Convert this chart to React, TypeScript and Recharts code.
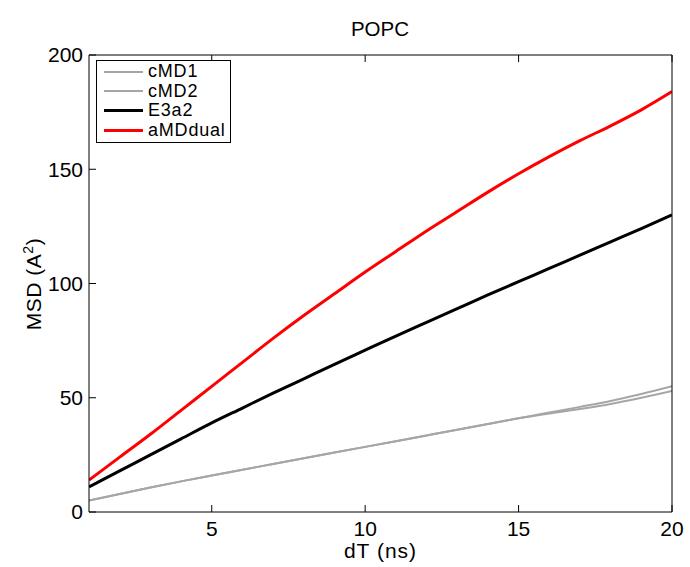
import React from 'react';
import { LineChart, Line, XAxis, YAxis, Legend, Label } from 'recharts';

const dT = [1, 2, 3, 4, 5, 6, 7, 8, 9, 10, 11, 12, 13, 14, 15, 16, 17, 18, 19, 20];
const cMD1 = [5, 7.9, 10.7, 13.4, 16, 18.5, 21, 23.5, 26, 28.5, 31, 33.5, 36, 38.5, 41, 43.5, 46, 48.6, 51.6, 55];
const cMD2 = [5, 7.9, 10.7, 13.4, 16, 18.5, 21, 23.5, 26, 28.5, 31, 33.5, 36, 38.5, 41, 43.1, 45.1, 47.3, 50, 53];
const E3a2 = [11, 18, 25, 32, 39, 45.5, 52, 58.3, 64.6, 70.8, 77, 83, 89, 95, 100.8, 106.6, 112.4, 118.2, 124, 130];
const aMDdual = [14, 24, 34, 44.5, 55, 65.5, 76, 86, 95.5, 105, 114, 123, 131.5, 140, 148, 155.5, 162.5, 169, 176, 184];
const xTicks = [5, 10, 15, 20];
const yTicks = [0, 50, 100, 150, 200];

const seriesInfo = [
  { key: 'cMD1', color: '#a6a6a6', width: 2 },
  { key: 'cMD2', color: '#a6a6a6', width: 2 },
  { key: 'E3a2', color: '#000000', width: 3 },
  { key: 'aMDdual', color: '#ff0000', width: 3 },
];

const data = dT.map((t, i) => ({ dT: t, cMD1: cMD1[i], cMD2: cMD2[i], E3a2: E3a2[i], aMDdual: aMDdual[i] }));

const FONT = '"Liberation Sans", Arial, sans-serif';

const LegendBox = () => (
  <div style={{ border: '1px solid #000', background: '#fff', width: 133, height: 80, boxSizing: 'content-box', fontFamily: FONT, fontSize: 18, letterSpacing: 0.8, paddingTop: 1 }}>
    {seriesInfo.map((s) => (
      <div key={s.key} style={{ display: 'flex', alignItems: 'center', height: 19.5 }}>
        <div style={{ marginLeft: 7, width: 39, height: s.width, background: s.color, flexShrink: 0 }} />
        <span style={{ marginLeft: 5, color: '#000', lineHeight: '19px', whiteSpace: 'nowrap' }}>{s.key}</span>
      </div>
    ))}
  </div>
);

const NoTick = () => <g />;

export default function App() {
  return (
    <div style={{ position: 'absolute', left: 0, top: 0, width: 690, height: 567, background: '#fff' }}>
      <LineChart width={690} height={567} data={data} margin={{ top: 54, right: 17, bottom: 0, left: 0 }}>
        <text x={380} y={36} textAnchor="middle" fontFamily={FONT} fontSize={20.5} fill="#000">POPC</text>
        <XAxis
          dataKey="dT"
          type="number"
          domain={[1, 20]}
          ticks={xTicks}
          allowDataOverflow
          height={55}
          tickSize={-7}
          tickMargin={16}
          stroke="#000"
          tick={{ fill: '#000', fontSize: 21, fontFamily: FONT }}
        >
          <Label
            content={(props: any) => {
              const vb = props.viewBox;
              return (
                <text x={vb.x + vb.width / 2} y={558} textAnchor="middle" fontFamily={FONT} fontSize={21} letterSpacing={1} fill="#000">dT (ns)</text>
              );
            }}
          />
        </XAxis>
        <XAxis
          xAxisId="top"
          orientation="top"
          dataKey="dT"
          type="number"
          domain={[1, 20]}
          ticks={xTicks}
          allowDataOverflow
          height={1}
          tickSize={-7}
          stroke="#000"
          tick={NoTick}
        />
        <YAxis
          type="number"
          domain={[0, 200]}
          ticks={yTicks}
          width={89}
          tickSize={-7}
          tickMargin={13}
          stroke="#000"
          tick={{ fill: '#000', fontSize: 21, fontFamily: FONT }}
        >
          <Label
            content={() => (
              <text x={41} y={284} transform="rotate(-90 41 284)" textAnchor="middle" fontFamily={FONT} fontSize={21} letterSpacing={0.5} fill="#000">
                MSD (A<tspan dy={-8} fontSize={14}>2</tspan><tspan dy={8}>)</tspan>
              </text>
            )}
          />
        </YAxis>
        <YAxis
          yAxisId="right"
          orientation="right"
          type="number"
          domain={[0, 200]}
          ticks={yTicks}
          width={1}
          tickSize={-7}
          stroke="#000"
          tick={NoTick}
        />
        <Legend
          layout="vertical"
          verticalAlign="middle"
          align="center"
          wrapperStyle={{ left: 96, top: 60, width: 'auto', height: 'auto' }}
          content={() => <LegendBox />}
        />
        {seriesInfo.map((s) => (
          <Line
            key={s.key}
            dataKey={s.key}
            stroke={s.color}
            strokeWidth={s.width}
            dot={false}
            activeDot={false}
            type="monotone"
            isAnimationActive={false}
          />
        ))}
      </LineChart>
    </div>
  );
}
